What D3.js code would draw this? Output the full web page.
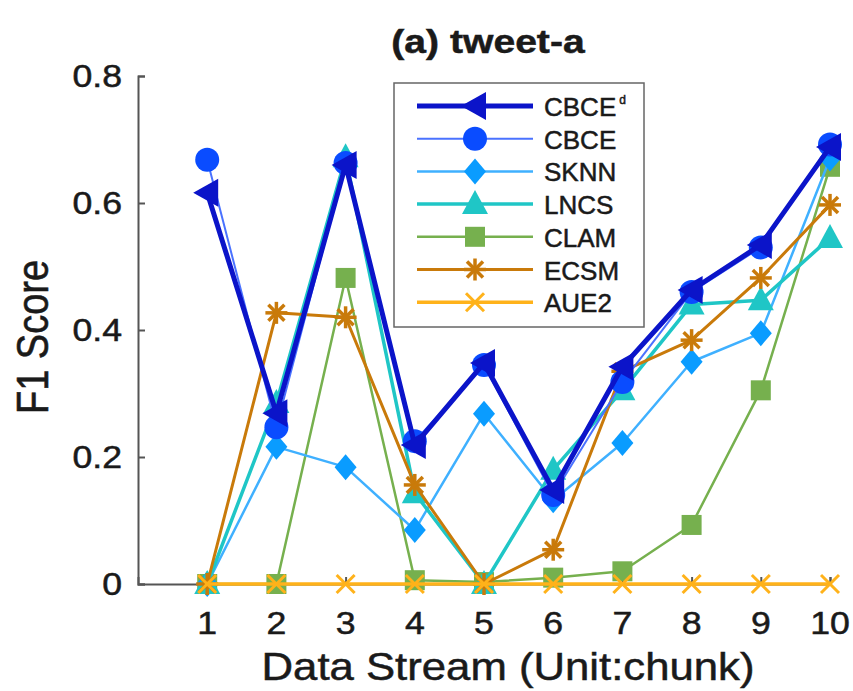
<!DOCTYPE html>
<head>
  <meta charset="utf-8">
  <script src="https://d3js.org/d3.v7.min.js"></script>
  <style>
    body { margin:0; background:#fff; }
    text { font-family: "Liberation Sans", Arial, sans-serif; fill:#1a1a1a; stroke:#1a1a1a; stroke-width:0.5px; }
  </style>
</head>
<body>
<script>

// values
var chunks = [1, 2, 3, 4, 5, 6, 7, 8, 9, 10];
var yTicks = [0, 0.2, 0.4, 0.6, 0.8];

var cbceD = [0.616, 0.269, 0.660, 0.219, 0.348, 0.148, 0.342, 0.463, 0.534, 0.688];
var cbce  = [0.668, 0.247, 0.663, 0.225, 0.345, 0.140, 0.318, 0.460, 0.530, 0.692];
var sknn  = [0.000, 0.216, 0.184, 0.085, 0.268, 0.132, 0.222, 0.350, 0.395, 0.670];
var lncs  = [0.000, 0.285, 0.672, 0.143, 0.000, 0.180, 0.305, 0.440, 0.447, 0.545];
var clam  = [0.000, 0.000, 0.482, 0.006, 0.003, 0.010, 0.020, 0.093, 0.305, 0.657];
var ecsm  = [0.000, 0.427, 0.420, 0.156, 0.000, 0.054, 0.335, 0.384, 0.482, 0.597];
var aue2  = [0, 0, 0, 0, 0, 0, 0, 0, 0, 0];

var series = [
  {name:"CBCE", sup:"d", values:cbceD, color:"#0b14c9", lw:5,   marker:"left"},
  {name:"CBCE", values:cbce,  color:"#0a4cff", line:"#4a72ff", lw:2,   marker:"circle"},
  {name:"SKNN", values:sknn,  color:"#0a9cff", line:"#3fb0ff", lw:2.5, marker:"diamond"},
  {name:"LNCS", values:lncs,  color:"#1fc6c6", lw:3.5, marker:"up"},
  {name:"CLAM", values:clam,  color:"#76b04e", lw:2.5, marker:"square"},
  {name:"ECSM", values:ecsm,  color:"#c97a0a", lw:3,   marker:"star"},
  {name:"AUE2", values:aue2,  color:"#ffb21a", lw:3.5, marker:"cross"}
];
// drawing order (last on top)
var drawOrder = [4, 2, 3, 5, 1, 0, 6];

var width = 853, height = 691;
var sx = 1.15;   // figure text looks stretched sideways

var svg = d3.select("body").append("svg")
  .attr("width", width)
  .attr("height", height);

var x = d3.scaleLinear().domain([0, 10]).range([138, 830]);
var y = d3.scaleLinear().domain([0, 0.8]).range([584, 76]);

function label(txt, px, py, size, anchor, weight) {
  return svg.append("text")
    .attr("transform", "translate(" + px + "," + py + ") scale(" + sx + ",1)")
    .attr("text-anchor", anchor)
    .style("font-size", size + "px")
    .style("font-weight", weight || "normal")
    .text(txt);
}

function marker(g, type, color, cx, cy) {
  var s;
  if (type == "circle") {
    g.append("circle").attr("cx", cx).attr("cy", cy).attr("r", 12).attr("fill", color);
  } else if (type == "left") {
    g.append("path").attr("d", "M" + (cx - 14) + "," + cy + "L" + (cx + 11) + "," + (cy - 14) + "L" + (cx + 11) + "," + (cy + 14) + "Z").attr("fill", color);
  } else if (type == "diamond") {
    g.append("path").attr("d", "M" + cx + "," + (cy - 13) + "L" + (cx + 11) + "," + cy + "L" + cx + "," + (cy + 13) + "L" + (cx - 11) + "," + cy + "Z").attr("fill", color);
  } else if (type == "up") {
    g.append("path").attr("d", "M" + cx + "," + (cy - 14) + "L" + (cx + 13) + "," + (cy + 10) + "L" + (cx - 13) + "," + (cy + 10) + "Z").attr("fill", color);
  } else if (type == "square") {
    g.append("rect").attr("x", cx - 10).attr("y", cy - 10).attr("width", 20).attr("height", 20).attr("fill", color);
  } else if (type == "star") {
    s = 11;
    [[0, -s, 0, s], [-s, 0, s, 0], [-8, -8, 8, 8], [-8, 8, 8, -8]].forEach(function(l) {
      g.append("line").attr("x1", cx + l[0]).attr("y1", cy + l[1]).attr("x2", cx + l[2]).attr("y2", cy + l[3])
        .attr("stroke", color).attr("stroke-width", 3.5);
    });
  } else if (type == "cross") {
    s = 9;
    [[-s, -s, s, s], [-s, s, s, -s]].forEach(function(l) {
      g.append("line").attr("x1", cx + l[0]).attr("y1", cy + l[1]).attr("x2", cx + l[2]).attr("y2", cy + l[3])
        .attr("stroke", color).attr("stroke-width", 3);
    });
  }
}

// axes: left and bottom only, ticks inward
var yAxis = svg.append("g")
  .attr("transform", "translate(" + x(0) + ",0)")
  .call(d3.axisLeft(y).tickValues(yTicks).tickSize(-7).tickFormat(""));
var xAxis = svg.append("g")
  .attr("transform", "translate(0," + y(0) + ")")
  .call(d3.axisBottom(x).tickValues(chunks).tickSize(-7).tickFormat(""));
svg.selectAll(".domain, .tick line").attr("stroke", "#555").attr("stroke-width", 2);

yTicks.forEach(function(t) {
  label(t == 0 ? "0" : d3.format(".1f")(t), 122, y(t) + 11, 31, "end");
});
chunks.forEach(function(c) {
  label(c, x(c), 634, 31, "middle");
});

label("Data Stream (Unit:chunk)", 508, 680, 38, "middle");
svg.append("text")
  .attr("transform", "translate(48,337) rotate(-90) scale(1," + sx + ")")
  .attr("text-anchor", "middle")
  .style("font-size", "38px")
  .text("F1 Score");
label("(a) tweet-a", 488, 53, 34, "middle", "bold");

// lines and markers
var line = d3.line()
  .x(function(d, i) { return x(chunks[i]); })
  .y(function(d) { return y(d); });

drawOrder.forEach(function(k) {
  var s = series[k];
  var g = svg.append("g");
  g.append("path")
    .attr("d", line(s.values))
    .attr("fill", "none")
    .attr("stroke", s.line || s.color)
    .attr("stroke-width", s.lw)
    .attr("stroke-linejoin", "round");
  s.values.forEach(function(v, i) {
    marker(g, s.marker, s.color, x(chunks[i]), y(v));
  });
});

// legend
var lg = svg.append("g");
lg.append("rect")
  .attr("x", 394).attr("y", 83).attr("width", 250).attr("height", 244)
  .attr("fill", "#fff").attr("stroke", "#666").attr("stroke-width", 1.5);

series.forEach(function(s, i) {
  var ry = 106 + i * 32.7;
  var row = lg.append("g");
  row.append("line")
    .attr("x1", 417).attr("x2", 533).attr("y1", ry).attr("y2", ry)
    .attr("stroke", s.line || s.color).attr("stroke-width", s.lw);
  marker(row, s.marker, s.color, 475, ry);
  var t = row.append("text")
    .attr("x", 544).attr("y", ry + 10)
    .style("font-size", "26px")
    .text(s.name);
  if (s.sup) {
    t.append("tspan").attr("dy", -12).attr("dx", 3).style("font-size", "12px").text(s.sup);
  }
});

</script>
</body>
